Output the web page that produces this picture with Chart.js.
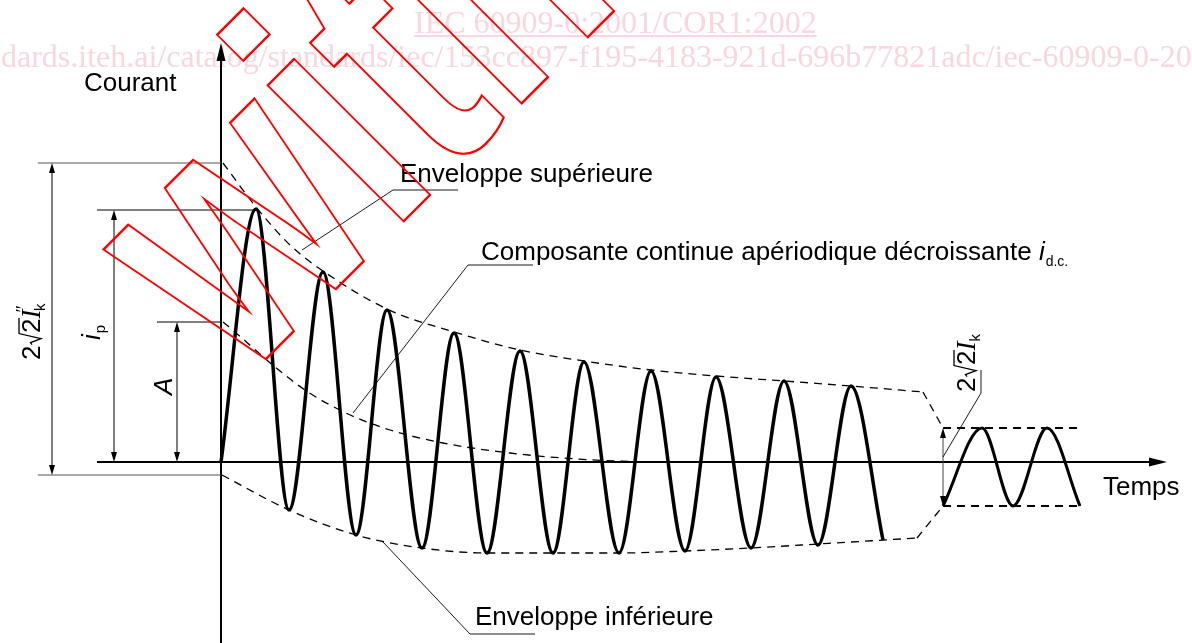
<!DOCTYPE html>
<html>
<head>
<meta charset="utf-8">
<script src="https://cdn.jsdelivr.net/npm/chart.js@4"></script>
<style>
  html, body { margin: 0; padding: 0; background: #fff; overflow: hidden; }
  canvas { display: block; }
</style>
</head>
<body>
<canvas id="chart" width="1192" height="643"></canvas>
<script>
// short-circuit current, values (time / current, arbitrary units)
// peaks and troughs of the decaying wave
const waveT = [0, 35, 68, 102, 135, 166, 201, 233, 266, 299, 332, 363, 398, 430, 464, 495, 530, 563, 597, 630, 662];
const waveI = [0, 253, -48, 190, -73, 152, -86, 129, -91, 111, -91, 100, -91, 91, -89, 85, -86, 81, -83, 76, -78];

// steady state after the gap
const steadyT = [722, 761, 792, 826, 859];
const steadyI = [-44, 34, -44, 34, -44];

// upper / lower envelope
const upperT = [2, 35, 69, 102, 166, 233, 299, 363, 430, 495, 563, 630, 702];
const upperI = [299, 255, 217, 191, 153, 130, 112, 101, 92, 86, 81, 76, 70];
const lowerT = [1, 68, 135, 201, 266, 332, 400, 464, 529, 597, 696];
const lowerI = [-13, -48, -73, -86, -91, -91, -91, -89, -86, -82, -76];

// envelope drop to the steady values
const upperDropT = [702, 722];
const upperDropI = [70, 34];
const lowerDropT = [696, 722];
const lowerDropI = [-76, -44];
const steadyTopT = [722, 856];
const steadyTopI = [34, 34];
const steadyBotT = [722, 862];
const steadyBotI = [-44, -44];

// decaying d.c. component
const dcT = [2, 14, 54, 87, 127, 169, 222, 289, 356, 419];
const dcI = [140, 130, 95, 70, 48, 32, 19, 9, 3, 0];

// dimension levels on the left
const peakLevel = 252;      // i_p
const dcStart = 140;        // A
const envTop = 299;         // 2√2 I"k (top)
const envBottom = -13;      // 2√2 I"k (bottom)

const pts = (xs, ys) => xs.map((x, i) => ({ x: x, y: ys[i] }));

const dash = [8, 6];

const solid = (xs, ys, w) => ({
  data: pts(xs, ys), borderColor: '#000', borderWidth: w,
  cubicInterpolationMode: 'monotone', pointRadius: 0, fill: false
});
const dashed = (xs, ys, w, curved) => ({
  data: pts(xs, ys), borderColor: '#000', borderWidth: w, borderDash: dash,
  cubicInterpolationMode: curved ? 'monotone' : 'default', tension: 0,
  pointRadius: 0, fill: false
});

function arrow(ctx, x, y, dx, dy, len, half) {
  // tip at x,y pointing along dx,dy
  const bx = x - dx * len, by = y - dy * len;
  ctx.beginPath();
  ctx.moveTo(x, y);
  ctx.lineTo(bx - dy * half, by + dx * half);
  ctx.lineTo(bx + dy * half, by - dx * half);
  ctx.closePath();
  ctx.fill();
}

function line(ctx, p) {
  ctx.beginPath();
  ctx.moveTo(p[0][0], p[0][1]);
  for (let i = 1; i < p.length; i++) ctx.lineTo(p[i][0], p[i][1]);
  ctx.stroke();
}

// draws text pieces one after the other, optionally rotated
function rich(ctx, x, y, rot, parts) {
  ctx.save();
  ctx.translate(x, y);
  ctx.rotate(rot);
  ctx.textBaseline = 'alphabetic';
  ctx.textAlign = 'left';
  let cx = 0;
  for (const p of parts) {
    ctx.font = p.font;
    if (p.root) {
      // radical sign with bar over the following digit
      const w2 = ctx.measureText(p.root).width;
      ctx.lineWidth = 1.3;
      line(ctx, [[cx + 1, -8], [cx + 3, -9.5], [cx + 7, 1], [cx + 12, -21], [cx + 13 + w2, -21]]);
      ctx.fillText(p.root, cx + 12.5, 0);
      cx += 12.5 + w2;
    } else {
      ctx.fillText(p.t, cx + (p.dx || 0), p.dy || 0);
      cx += ctx.measureText(p.t).width + (p.dx || 0) + (p.gap || 0);
    }
  }
  ctx.restore();
}

const SANS = '"Liberation Sans", Arial, sans-serif';
const SERIF = '"Liberation Serif", "Times New Roman", serif';

const figure = {
  id: 'figure',
  beforeDatasetsDraw(chart) {
    const ctx = chart.ctx;
    const X = v => chart.scales.x.getPixelForValue(v);
    const Y = v => chart.scales.y.getPixelForValue(v);
    ctx.save();

    // pale watermark text
    ctx.fillStyle = '#f8d7df';
    ctx.font = '32px ' + SERIF;
    ctx.textBaseline = 'alphabetic';
    const head = 'IEC 60909-0:2001/COR1:2002';
    ctx.fillText(head, 414, 33);
    ctx.fillRect(414, 35, ctx.measureText(head).width, 2);
    const url = 'https://standards.iteh.ai/catalog/standards/iec/153cc897-f195-4183-921d-696b77821adc/iec-60909-0-2001-cor1-2002';
    ctx.fillText(url, 1 - ctx.measureText('https://stan').width, 67);

    // axes
    ctx.strokeStyle = '#000';
    ctx.fillStyle = '#000';
    ctx.lineWidth = 2;
    line(ctx, [[X(0), Y(-181)], [X(0), Y(419) + 14]]);
    arrow(ctx, X(0), Y(419), 0, -1, 18, 4.5);
    line(ctx, [[X(-124), Y(0)], [X(946) - 14, Y(0)]]);
    arrow(ctx, X(946), Y(0), 1, 0, 18, 4.5);

    // extension lines
    ctx.lineWidth = 1;
    ctx.strokeStyle = '#555';
    line(ctx, [[X(-183), Y(envTop)], [X(0), Y(envTop)]]);
    line(ctx, [[X(-183), Y(envBottom)], [X(0), Y(envBottom)]]);
    ctx.strokeStyle = '#000';
    line(ctx, [[X(-124), Y(peakLevel)], [X(35), Y(peakLevel)]]);
    line(ctx, [[X(-64), Y(dcStart)], [X(0), Y(dcStart)]]);

    // dimension lines with arrows
    const dims = [[-169, envTop, envBottom], [-107, peakLevel, 0], [-44, dcStart, 0], [722, 34, -44]];
    for (const d of dims) {
      const x = X(d[0]);
      ctx.strokeStyle = d[0] > 0 ? '#444' : '#000';
      line(ctx, [[x, Y(d[1]) + 8], [x, Y(d[2]) - 8]]);
      arrow(ctx, x, Y(d[1]), 0, -1, 10, 3);
      arrow(ctx, x, Y(d[2]), 0, 1, 10, 3);
    }

    // leader lines
    ctx.strokeStyle = '#000';
    ctx.lineWidth = 0.9;
    line(ctx, [[X(237), Y(272)], [X(172), Y(272)], [X(81), Y(212)]]);
    line(ctx, [[X(312), Y(197)], [X(247), Y(197)], [X(132), Y(49)]]);
    line(ctx, [[X(314), Y(-172)], [X(249), Y(-172)], [X(162), Y(-80)]]);
    line(ctx, [[X(760), Y(92)], [X(760), Y(69)], [X(722), Y(5)]]);
    ctx.restore();
  },
  afterDatasetsDraw(chart) {
    const ctx = chart.ctx;
    const X = v => chart.scales.x.getPixelForValue(v);
    const Y = v => chart.scales.y.getPixelForValue(v);
    const up = -Math.PI / 2;
    ctx.save();
    ctx.fillStyle = '#000';
    ctx.strokeStyle = '#000';

    const f26 = '26px ' + SANS;
    rich(ctx, X(-137), Y(371), 0, [{ t: 'Courant', font: f26 }]);
    rich(ctx, X(882), Y(-33), 0, [{ t: 'Temps', font: f26 }]);
    rich(ctx, X(179), Y(280), 0, [{ t: 'Enveloppe supérieure', font: f26 }]);
    rich(ctx, X(260), Y(202), 0, [
      { t: 'Composante continue apériodique décroissante ', font: f26 },
      { t: 'i', font: 'italic 26px ' + SANS, gap: 1 },
      { t: 'd.c.', font: '14px ' + SANS, dy: 6 }
    ]);
    rich(ctx, X(254), Y(-163), 0, [{ t: 'Enveloppe inférieure', font: f26 }]);

    // rotated dimension labels
    rich(ctx, X(-181), Y(102), up, [
      { t: '2', font: f26 },
      { root: '2', font: f26 },
      { t: 'I', font: 'italic 27px ' + SERIF, gap: -2 },
      { t: '\u2033', font: '18px ' + SERIF, dy: -11, dx: -1, gap: -6 },
      { t: 'k', font: '15px ' + SANS, dy: 5 }
    ]);
    rich(ctx, X(-121), Y(122), up, [
      { t: 'i', font: 'italic 26px ' + SANS, gap: 1 },
      { t: 'p', font: '15px ' + SANS, dy: 5 }
    ]);
    rich(ctx, X(-49), Y(67), up, [{ t: 'A', font: 'italic 26px ' + SANS }]);
    rich(ctx, X(754), Y(70), up, [
      { t: '2', font: f26 },
      { root: '2', font: f26 },
      { t: 'I', font: 'italic 27px ' + SERIF, gap: 0 },
      { t: 'k', font: '15px ' + SANS, dy: 5 }
    ]);

    // red outlined watermark word, anchored at the foot of the "i"
    ctx.save();
    ctx.translate(X(196), Y(254));
    ctx.rotate(-Math.PI / 4);
    ctx.scale(0.75, 1);
    ctx.font = 'bold 364px ' + SANS;
    const ww = ctx.measureText('w').width, wi = ctx.measureText('i').width;
    ctx.strokeStyle = '#ff0000';
    ctx.lineWidth = 2.4;
    ctx.lineJoin = 'miter';
    ctx.strokeText('with', -(ww + wi / 2), 0);
    ctx.restore();

    ctx.restore();
  }
};

new Chart(document.getElementById('chart').getContext('2d'), {
  type: 'line',
  data: {
    datasets: [
      solid(waveT, waveI, 3.5),
      solid(steadyT, steadyI, 3),
      dashed(upperT, upperI, 1.3, true),
      dashed(lowerT, lowerI, 1.3, true),
      dashed(dcT, dcI, 1.3, true),
      dashed(upperDropT, upperDropI, 1.3, false),
      dashed(lowerDropT, lowerDropI, 1.3, false),
      dashed(steadyTopT, steadyTopI, 2, false),
      dashed(steadyBotT, steadyBotI, 2, false)
    ]
  },
  options: {
    responsive: false,
    animation: false,
    devicePixelRatio: 1,
    layout: { padding: 0 },
    plugins: { legend: { display: false }, tooltip: { enabled: false } },
    scales: {
      x: { type: 'linear', min: -221, max: 971, display: false },
      y: { type: 'linear', min: -181, max: 462, display: false }
    }
  },
  plugins: [figure]
});
</script>
</body>
</html>
